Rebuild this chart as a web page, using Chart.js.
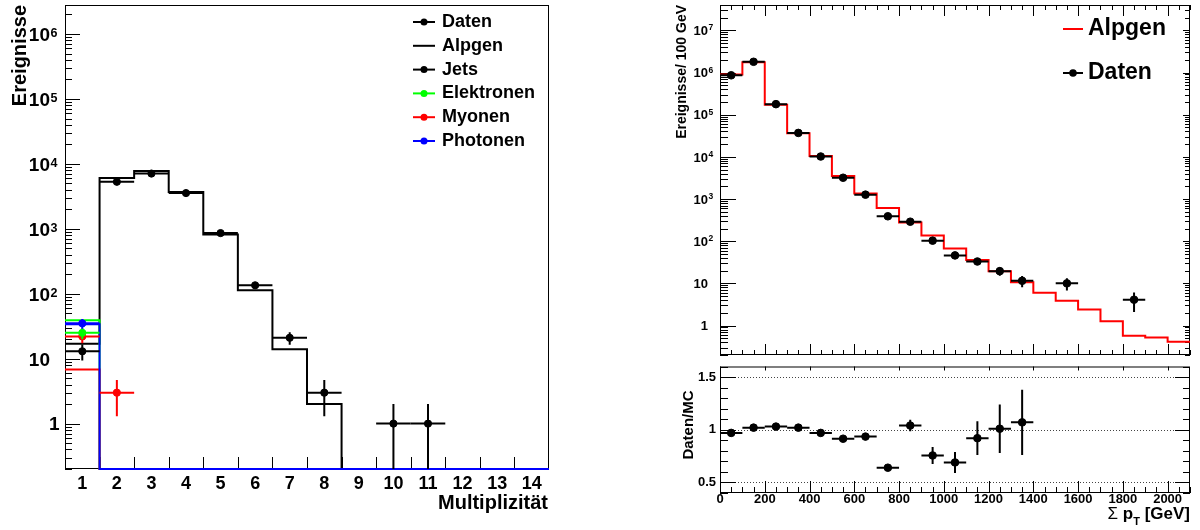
<!DOCTYPE html>
<html>
<head>
<meta charset="utf-8">
<script src="https://cdn.jsdelivr.net/npm/chart.js@4.4.0/dist/chart.umd.min.js"></script>
<style>
  body { margin: 0; background: #fff; width: 1200px; height: 530px; overflow: hidden; position: relative; }
  canvas { position: absolute; }
  #multChart { left: 0; top: 0; }
  #ptChart { left: 600px; top: 0; }
  #ratioChart { left: 600px; top: 356px; }
</style>
</head>
<body>
<canvas id="multChart" width="600" height="530"></canvas>
<canvas id="ptChart" width="600" height="360"></canvas>
<canvas id="ratioChart" width="600" height="174"></canvas>
<script>
const FONT = "'Liberation Sans', 'DejaVu Sans', Arial, sans-serif";
const BLACK = '#000000', GREEN = '#00ff00', RED = '#ff0000', BLUE = '#0000ff';

// links: Multiplizitaet
const multBins   = [1, 2, 3, 4, 5, 6, 7, 8, 9, 10, 11, 12, 13, 14];
const alpgenJets = [17, 6050, 7800, 3700, 820, 113, 14, 2, 0, 0, 0, 0, 0, 0];
const alpgenEle  = [39, 0, 0, 0, 0, 0, 0, 0, 0, 0, 0, 0, 0, 0];
const alpgenMyo  = [6.8, 0, 0, 0, 0, 0, 0, 0, 0, 0, 0, 0, 0, 0];
const alpgenPho  = [34, 0, 0, 0, 0, 0, 0, 0, 0, 0, 0, 0, 0, 0];
const jetsX   = [1, 2, 3, 4, 5, 6, 7, 8, 10, 11];
const jetsY   = [13, 5300, 7100, 3550, 860, 135, 21, 3, 1, 1];
const jetsErr = [3.6, 73, 84, 60, 29, 12, 4.6, 1.7, 1, 1];
const eleX = [1],    eleY = [25],    eleErr = [5];
const myoX = [1, 2], myoY = [22, 3], myoErr = [4.7, 1.7];
const phoX = [1],    phoY = [35],    phoErr = [6];
const multTicks    = [1, 2, 3, 4, 5, 6, 7, 8, 9, 10, 11, 12, 13, 14];
const multLogTicks = [1, 10, 100, 1e3, 1e4, 1e5, 1e6];
const legendLeft   = ['Daten', 'Alpgen', 'Jets', 'Elektronen', 'Myonen', 'Photonen'];

// rechts: Summe pT
const ptEdges  = [0, 100, 200, 300, 400, 500, 600, 700, 800, 900, 1000, 1100, 1200, 1300, 1400, 1500, 1600, 1700, 1800, 1900, 2000, 2100];
const alpgenPt = [9.0e5, 1.75e6, 1.73e5, 3.62e4, 1.05e4, 3500, 1360, 610, 278, 136, 67, 36, 19.3, 10.7, 6.0, 3.85, 2.4, 1.26, 0.57, 0.52, 0.41];
const datenPtX   = [50, 150, 250, 350, 450, 550, 650, 750, 850, 950, 1050, 1150, 1250, 1350, 1550, 1850];
const datenPtY   = [8.6e5, 1.8e6, 1.78e5, 3.7e4, 1.02e4, 3200, 1270, 390, 290, 103, 46, 33, 19.5, 11.5, 10, 4.1];
const datenPtErr = [930, 1340, 420, 190, 100, 57, 36, 20, 17, 10, 6.8, 5.7, 4.4, 3.4, 3.2, 2];
const ratioX   = [50, 150, 250, 350, 450, 550, 650, 750, 850, 950, 1050, 1150, 1250, 1350];
const ratioY   = [0.97, 1.02, 1.03, 1.02, 0.97, 0.915, 0.935, 0.64, 1.04, 0.756, 0.69, 0.92, 1.01, 1.07];
const ratioErr = [0.004, 0.004, 0.006, 0.01, 0.012, 0.02, 0.03, 0.03, 0.055, 0.08, 0.1, 0.16, 0.23, 0.31];
const ptTicks    = [0, 200, 400, 600, 800, 1000, 1200, 1400, 1600, 1800, 2000];
const ptLogTicks = [1, 10, 100, 1e3, 1e4, 1e5, 1e6, 1e7];
const ratioTicks = [0.5, 1, 1.5];
const legendRight = ['Alpgen', 'Daten'];

function histPts(edges, vals, floor) {
  const out = vals.map((v, i) => ({ x: edges[i], y: Math.max(v, floor) }));
  out.push({ x: edges[vals.length], y: Math.max(vals[vals.length - 1], floor) });
  return out;
}
function pts(xs, ys) { return xs.map((x, i) => ({ x: x, y: ys[i] })); }
function logMinor(min, max) {
  const out = [];
  for (let e = Math.floor(Math.log10(min)); e <= Math.ceil(Math.log10(max)); e++) {
    for (let d = 2; d <= 9; d++) {
      const v = d * Math.pow(10, e);
      if (v >= min && v <= max) out.push(v);
    }
  }
  return out;
}
function steps(a, b, s) {
  const out = [];
  for (let v = a; v <= b + 1e-9; v += s) out.push(+v.toFixed(6));
  return out;
}
function font(size) { return { family: FONT, size: size, weight: 'bold', lineHeight: 1 }; }

// Fehlerbalken unter den Markern
const errorBars = {
  id: 'errorBars',
  beforeDatasetDraw(chart, args) {
    const ds = chart.data.datasets[args.index];
    if (!ds.errY) return;
    const ctx = chart.ctx, xs = chart.scales.x, ys = chart.scales.y;
    ctx.save();
    ctx.strokeStyle = ds.borderColor;
    ctx.lineWidth = 2;
    ds.data.forEach((p, i) => {
      const px = xs.getPixelForValue(p.x), py = ys.getPixelForValue(p.y);
      const lo = Math.max(p.y - ds.errY[i], ys.min), hi = p.y + ds.errY[i];
      ctx.beginPath();
      ctx.moveTo(xs.getPixelForValue(p.x - ds.errX), py);
      ctx.lineTo(xs.getPixelForValue(p.x + ds.errX), py);
      ctx.moveTo(px, ys.getPixelForValue(lo));
      ctx.lineTo(px, ys.getPixelForValue(hi));
      ctx.stroke();
    });
    ctx.restore();
  }
};

// Rahmen, Ticks nach innen, 10^n-Beschriftung, Titel, Legende (ROOT-Stil)
const decor = {
  id: 'decor',
  beforeDatasetsDraw(chart, args, o) {
    const ctx = chart.ctx, a = chart.chartArea;
    ctx.save();
    ctx.strokeStyle = BLACK;
    ctx.lineWidth = 1;
    ctx.strokeRect(a.left + 0.5, a.top + 0.5, a.right - a.left - 1, a.bottom - a.top - 1);
    if (o.refY) {
      const ys = chart.scales.y;
      ctx.setLineDash([1, 2]);
      ctx.strokeStyle = '#444';
      o.refY.forEach(v => {
        const y = Math.round(ys.getPixelForValue(v)) + 0.5;
        ctx.beginPath(); ctx.moveTo(a.left, y); ctx.lineTo(a.right, y); ctx.stroke();
      });
      ctx.setLineDash([]);
      ctx.strokeStyle = BLACK;
    }
    (o.ticks || []).forEach(t => {
      const sc = chart.scales[t.axis];
      ctx.beginPath();
      t.values.forEach(v => {
        const p = Math.round(sc.getPixelForValue(v)) + 0.5;
        if (t.side === 'bottom') { ctx.moveTo(p, a.bottom); ctx.lineTo(p, a.bottom - t.len); }
        if (t.side === 'top') { ctx.moveTo(p, a.top); ctx.lineTo(p, a.top + t.len); }
        if (t.side === 'left') { ctx.moveTo(a.left, p); ctx.lineTo(a.left + t.len, p); }
        if (t.side === 'right') { ctx.moveTo(a.right, p); ctx.lineTo(a.right - t.len, p); }
      });
      ctx.stroke();
    });
    ctx.restore();
  },
  afterDraw(chart, args, o) {
    const ctx = chart.ctx;
    ctx.save();
    ctx.fillStyle = BLACK;
    const pl = o.powLabels;
    if (pl) {
      const ys = chart.scales.y;
      ctx.textBaseline = 'alphabetic';
      ys.ticks.forEach(t => {
        const y = ys.getPixelForValue(t.value);
        const e = Math.round(Math.log10(t.value));
        ctx.font = 'bold ' + pl.size + 'px ' + FONT;
        ctx.textAlign = 'right';
        if (e === 0) { ctx.fillText('1', pl.oneRight, y + 0.36 * pl.size); return; }
        ctx.fillText('10', pl.baseRight, y + 0.36 * pl.size);
        if (e === 1) return;
        ctx.font = 'bold ' + pl.supSize + 'px ' + FONT;
        ctx.textAlign = 'left';
        ctx.fillText(String(e), pl.baseRight + 0.5, y + pl.supDy);
      });
      ctx.textAlign = 'left';
    }
    (o.texts || []).forEach(t => {
      ctx.save();
      ctx.translate(t.x, t.y);
      if (t.rotate) ctx.rotate(-Math.PI / 2);
      ctx.textBaseline = 'alphabetic';
      const parts = t.parts || [{ text: t.text, size: t.size }];
      const widths = parts.map(p => {
        ctx.font = (p.weight || 'bold') + ' ' + p.size + 'px ' + FONT;
        return ctx.measureText(p.text).width;
      });
      const total = widths.reduce((s, w) => s + w, 0);
      let x = t.align === 'right' ? -total : t.align === 'center' ? -total / 2 : 0;
      parts.forEach((p, i) => {
        ctx.font = (p.weight || 'bold') + ' ' + p.size + 'px ' + FONT;
        ctx.fillText(p.text, x, p.dy || 0);
        x += widths[i];
      });
      ctx.restore();
    });
    const lg = o.legend;
    if (lg) {
      ctx.font = 'bold ' + lg.size + 'px ' + FONT;
      ctx.textBaseline = 'middle';
      lg.rows.forEach(r => {
        ctx.strokeStyle = r.color;
        ctx.fillStyle = r.color;
        ctx.lineWidth = 2;
        ctx.beginPath(); ctx.moveTo(lg.x0, r.y); ctx.lineTo(lg.x1, r.y); ctx.stroke();
        if (r.marker) {
          ctx.beginPath(); ctx.arc((lg.x0 + lg.x1) / 2, r.y, lg.r, 0, 2 * Math.PI); ctx.fill();
        }
        ctx.fillStyle = BLACK;
        ctx.fillText(r.label, lg.tx, r.y);
      });
    }
    ctx.restore();
  }
};
Chart.register(errorBars, decor);

const baseOpts = {
  responsive: false,
  animation: false,
  events: [],
  plugins: { legend: { display: false }, tooltip: { enabled: false } }
};
const noGrid = { display: false, drawTicks: false };

// ---------- linke Grafik ----------
const multEdges = multBins.map(b => b - 0.5).concat([multBins[multBins.length - 1] + 0.5]);
const multMin = 0.2, multMax = 2.8e6;
function multHist(label, vals, color, order) {
  return { type: 'line', label: label, data: histPts(multEdges, vals, multMin), borderColor: color,
    borderWidth: 2, stepped: true, pointRadius: 0, fill: false, clip: 4, order: order,
    borderCapStyle: 'butt', borderJoinStyle: 'miter' };
}
function multData(label, xs, ys, errs, color, order) {
  return { type: 'line', label: label, data: pts(xs, ys), showLine: false, pointRadius: 3.6,
    pointBackgroundColor: color, pointBorderColor: color, borderColor: color, errY: errs, errX: 0.5,
    clip: 4, order: order };
}
const legendColors = { Daten: BLACK, Alpgen: BLACK, Jets: BLACK, Elektronen: GREEN, Myonen: RED, Photonen: BLUE };

new Chart(document.getElementById('multChart'), {
  type: 'line',
  data: {
    datasets: [
      multData('Jets', jetsX, jetsY, jetsErr, BLACK, 1),
      multData('Elektronen', eleX, eleY, eleErr, GREEN, 2),
      multData('Myonen', myoX, myoY, myoErr, RED, 3),
      multData('Photonen', phoX, phoY, phoErr, BLUE, 0),
      multHist('Photonen MC', alpgenPho, BLUE, 5),
      multHist('Myonen MC', alpgenMyo, RED, 6),
      multHist('Elektronen MC', alpgenEle, GREEN, 7),
      multHist('Jets MC', alpgenJets, BLACK, 8)
    ]
  },
  options: Object.assign({}, baseOpts, {
    layout: { padding: { top: 4, right: 51, left: 0, bottom: 0 } },
    scales: {
      x: {
        type: 'linear', min: 0.5, max: 14.5,
        afterBuildTicks: s => { s.ticks = multTicks.map(v => ({ value: v })); },
        afterFit: s => { s.height = 61; },
        ticks: { color: BLACK, font: font(18), padding: 6, maxRotation: 0, autoSkip: false },
        grid: noGrid, border: { display: false }
      },
      y: {
        type: 'logarithmic', min: multMin, max: multMax,
        afterBuildTicks: s => { s.ticks = multLogTicks.map(v => ({ value: v })); },
        afterFit: s => { s.width = 65; },
        ticks: { display: false },
        grid: noGrid, border: { display: false }
      }
    },
    plugins: Object.assign({}, baseOpts.plugins, {
      decor: {
        powLabels: { size: 19, supSize: 12.5, baseRight: 50, oneRight: 59.5, supDy: 3 },
        ticks: [
          { axis: 'x', side: 'bottom', values: multEdges.slice(1, -1), len: 12 },
          { axis: 'y', side: 'left', values: multLogTicks, len: 15 },
          { axis: 'y', side: 'left', values: logMinor(multMin, multMax), len: 7 }
        ],
        texts: [
          { text: 'Ereignisse', x: 26, y: 5, size: 20, align: 'right', rotate: true },
          { text: 'Multiplizit\u00e4t', x: 548, y: 509, size: 20, align: 'right' }
        ],
        legend: {
          x0: 413, x1: 435, tx: 442, size: 18, r: 3.5,
          rows: legendLeft.map((l, i) => ({ label: l, color: legendColors[l], marker: l !== 'Alpgen', y: 22 + i * 23.8 }))
        }
      }
    })
  })
});

// ---------- rechte Grafik oben ----------
const ptMin = 0.2, ptMax = 4e7;
const ptMinor = steps(0, 2100, 50);
new Chart(document.getElementById('ptChart'), {
  type: 'line',
  data: {
    datasets: [
      { type: 'line', label: 'Daten', data: pts(datenPtX, datenPtY), showLine: false, pointRadius: 3.8,
        pointBackgroundColor: BLACK, pointBorderColor: BLACK, borderColor: BLACK,
        errY: datenPtErr, errX: 50, clip: 4, order: 0 },
      { type: 'line', label: 'Alpgen', data: histPts(ptEdges, alpgenPt, ptMin), borderColor: RED,
        borderWidth: 2, stepped: true, pointRadius: 0, fill: false, clip: 4, order: 1,
        borderCapStyle: 'butt', borderJoinStyle: 'miter' }
    ]
  },
  options: Object.assign({}, baseOpts, {
    layout: { padding: { top: 3, right: 10, left: 0, bottom: 0 } },
    scales: {
      x: {
        type: 'linear', min: 0, max: 2100,
        afterFit: s => { s.height = 2; },
        ticks: { display: false }, grid: noGrid, border: { display: false }
      },
      y: {
        type: 'logarithmic', min: ptMin, max: ptMax,
        afterBuildTicks: s => { s.ticks = ptLogTicks.map(v => ({ value: v })); },
        afterFit: s => { s.width = 120; },
        ticks: { display: false },
        grid: noGrid, border: { display: false }
      }
    },
    plugins: Object.assign({}, baseOpts.plugins, {
      decor: {
        powLabels: { size: 13, supSize: 8.5, baseRight: 108, oneRight: 108, supDy: 0 },
        ticks: [
          { axis: 'x', side: 'bottom', values: ptTicks, len: 11 },
          { axis: 'x', side: 'bottom', values: ptMinor, len: 5 },
          { axis: 'x', side: 'top', values: ptTicks, len: 11 },
          { axis: 'x', side: 'top', values: ptMinor, len: 5 },
          { axis: 'y', side: 'left', values: ptLogTicks, len: 16 },
          { axis: 'y', side: 'left', values: logMinor(ptMin, ptMax), len: 8 },
          { axis: 'y', side: 'right', values: ptLogTicks, len: 7 },
          { axis: 'y', side: 'right', values: logMinor(ptMin, ptMax), len: 5 }
        ],
        texts: [
          { text: 'Ereignisse/ 100 GeV', x: 85.5, y: 5, size: 14, align: 'right', rotate: true }
        ],
        legend: {
          x0: 463, x1: 483, tx: 488, size: 23, r: 3.8,
          rows: legendRight.map((l, i) => ({ label: l, color: l === 'Alpgen' ? RED : BLACK, marker: l === 'Daten', y: 29 + i * 44 }))
        }
      }
    })
  })
});

// ---------- rechte Grafik unten: Verhaeltnis ----------
new Chart(document.getElementById('ratioChart'), {
  type: 'line',
  data: {
    datasets: [
      { type: 'line', label: 'Daten/MC', data: pts(ratioX, ratioY), showLine: false, pointRadius: 3.8,
        pointBackgroundColor: BLACK, pointBorderColor: BLACK, borderColor: BLACK,
        errY: ratioErr, errX: 50, clip: 4 }
    ]
  },
  options: Object.assign({}, baseOpts, {
    layout: { padding: { top: 2, right: 10, left: 0, bottom: 0 } },
    scales: {
      x: {
        type: 'linear', min: 0, max: 2100,
        afterBuildTicks: s => { s.ticks = ptTicks.map(v => ({ value: v })); },
        afterFit: s => { s.height = 37; },
        ticks: { color: BLACK, font: font(13), padding: 0, maxRotation: 0, autoSkip: false, callback: v => String(v) },
        grid: noGrid, border: { display: false }
      },
      y: {
        type: 'linear', min: 0.4, max: 1.6,
        afterBuildTicks: s => { s.ticks = ratioTicks.map(v => ({ value: v })); },
        afterFit: s => { s.width = 120; },
        ticks: { color: BLACK, font: font(13), padding: 4, callback: v => String(v) },
        grid: noGrid, border: { display: false }
      }
    },
    plugins: Object.assign({}, baseOpts.plugins, {
      decor: {
        refY: ratioTicks,
        ticks: [
          { axis: 'x', side: 'bottom', values: ptTicks, len: 12 },
          { axis: 'x', side: 'bottom', values: ptMinor, len: 6 },
          { axis: 'x', side: 'top', values: ptTicks, len: 4 },
          { axis: 'y', side: 'left', values: ratioTicks, len: 16 },
          { axis: 'y', side: 'left', values: steps(0.4, 1.6, 0.1), len: 8 },
          { axis: 'y', side: 'right', values: ratioTicks, len: 15 },
          { axis: 'y', side: 'right', values: steps(0.4, 1.6, 0.1), len: 7 }
        ],
        texts: [
          { text: 'Daten/MC', x: 93, y: 69, size: 15, align: 'center', rotate: true },
          { parts: [
              { text: '\u03a3 ', size: 17, weight: 'normal' },
              { text: 'p', size: 17 },
              { text: 'T', size: 11, dy: 6 },
              { text: ' [GeV]', size: 17 }
            ], x: 590, y: 163, align: 'right' }
        ]
      }
    })
  })
});
</script>
</body>
</html>
